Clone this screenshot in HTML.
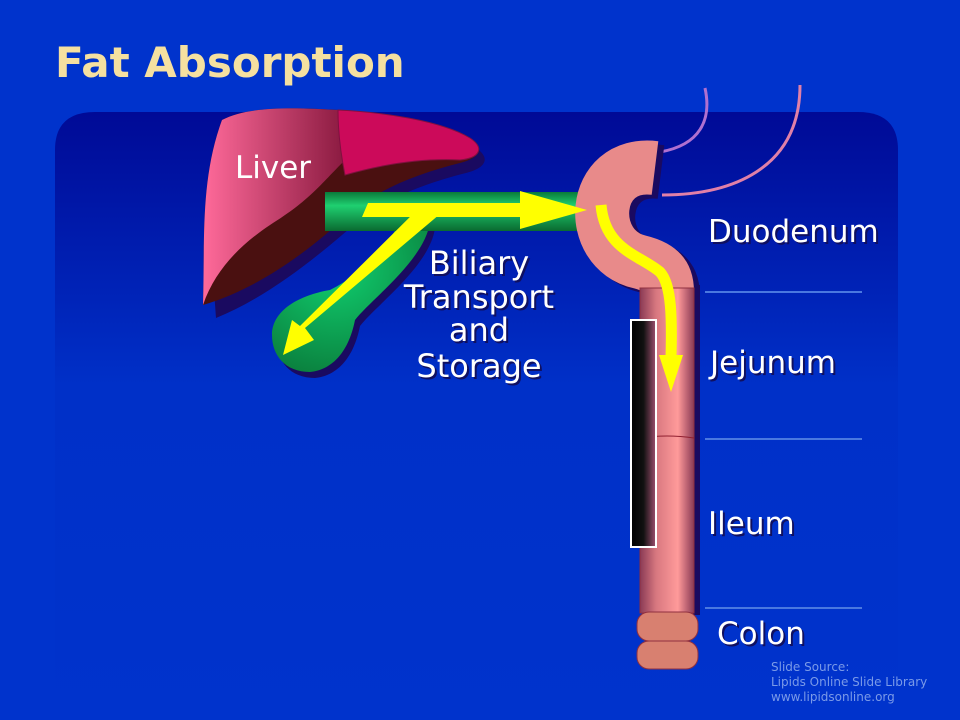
<!DOCTYPE html>
<html><head><style>
body{margin:0;width:960px;height:720px;overflow:hidden;background:#0033cc;}
svg{display:block}
.l{font-family:"DejaVu Sans","Liberation Sans",sans-serif;fill:#fff;font-size:31px}
</style></head><body>
<svg width="960" height="720" viewBox="0 0 960 720">
<defs>
<linearGradient id="panel" x1="0" y1="0" x2="0" y2="1">
<stop offset="0" stop-color="#000a96"/><stop offset="0.45" stop-color="#0030c8"/><stop offset="1" stop-color="#0033cc"/></linearGradient>
<linearGradient id="grn" x1="0" y1="0" x2="0" y2="1">
<stop offset="0" stop-color="#0a7a3a"/><stop offset="0.35" stop-color="#1fd070"/><stop offset="1" stop-color="#0a6a30"/></linearGradient>
<radialGradient id="gb" cx="0.4" cy="0.3" r="0.8"><stop offset="0" stop-color="#10d070"/><stop offset="1" stop-color="#0a7a3a"/></radialGradient>
<linearGradient id="tube" x1="0" y1="0" x2="1" y2="0">
<stop offset="0" stop-color="#8a3a55"/><stop offset="0.3" stop-color="#d87880"/><stop offset="0.7" stop-color="#ff9a9a"/><stop offset="1" stop-color="#8a3a55"/></linearGradient>
<linearGradient id="liv" x1="0" y1="0" x2="1" y2="0">
<stop offset="0" stop-color="#ff6a9a"/><stop offset="1" stop-color="#8a1a40"/></linearGradient>
<linearGradient id="bar" x1="0" y1="0" x2="1" y2="0">
<stop offset="0" stop-color="#000"/><stop offset="0.5" stop-color="#111"/><stop offset="1" stop-color="#a05070"/></linearGradient>
</defs>
<path d="M55 150 Q55 112 95 112 L858 112 Q898 112 898 150 L898 720 L55 720 Z" fill="url(#panel)"/>
<text x="55" y="77" font-family="DejaVu Sans,Liberation Sans,sans-serif" font-weight="bold" font-size="42" fill="#f5e0a0">Fat Absorption</text>
<!-- stomach -->
<path d="M705 88 C712 120 700 145 660 152" stroke="#b070d0" stroke-width="3" fill="none"/>
<path d="M800 85 C800 170 730 195 662 195" stroke="#e080a8" stroke-width="3" fill="none"/>
<!-- lines -->
<g stroke="#4a78e0" stroke-width="2"><line x1="705" y1="292" x2="862" y2="292"/><line x1="705" y1="439" x2="862" y2="439"/><line x1="705" y1="608" x2="862" y2="608"/></g>
<!-- liver -->
<path d="M210 310 C205 240 200 180 225 120 C250 105 300 108 340 112 C380 115 440 120 470 140 C485 150 480 160 460 165 C420 175 380 190 350 215 C310 250 260 290 210 310 Z" fill="#1a0a60" transform="translate(6,8)"/>
<path d="M203 305 C205 240 200 180 222 120 C250 105 300 108 340 110 C380 112 440 120 470 138 C485 148 480 158 460 163 C420 173 380 188 350 213 C310 250 260 288 203 305 Z" fill="#4a1010"/>
<path d="M203 305 C205 240 200 180 222 120 C250 105 300 108 338 110 L345 160 C320 185 310 200 270 225 C240 245 215 270 203 305 Z" fill="url(#liv)"/>
<path d="M338 110 C380 112 440 120 470 138 C485 148 480 158 460 160 C420 158 380 165 345 175 C340 150 338 130 338 110 Z" fill="#cc0a5a" stroke="#801040"/>
<text class="l" x="235" y="178">Liver</text>
<!-- gallbladder -->
<path d="M400 222 L430 222 C425 260 370 300 355 320 C348 355 330 370 310 372 C285 372 272 355 272 335 C272 310 300 295 330 290 C360 275 385 250 400 222 Z" fill="#1a0a60" transform="translate(5,6)"/>
<path d="M400 222 L430 222 C425 260 370 300 355 320 C348 355 330 370 310 372 C285 372 272 355 272 335 C272 310 300 295 330 290 C360 275 385 250 400 222 Z" fill="url(#gb)"/>
<!-- duct -->
<rect x="325" y="192" width="262" height="39" fill="url(#grn)"/>
<!-- duodenum + intestine -->
<rect x="646" y="285" width="54" height="330" fill="#1a0a60"/>
<path d="M655 168 C590 160 585 250 640 262 C665 268 667 280 667 292" stroke="#1a0a60" stroke-width="54" fill="none" transform="translate(6,4)"/>
<path d="M655 168 C590 160 585 250 640 262 C665 268 667 280 667 292" stroke="#e88a8a" stroke-width="54" fill="none"/>
<rect x="640" y="288" width="54" height="325" fill="url(#tube)" stroke="#903040"/>
<path d="M640 438 Q667 434 694 438" stroke="#902030" fill="none"/>
<rect x="637" y="612" width="61" height="29" rx="12" fill="#d88070" stroke="#903040"/>
<rect x="637" y="641" width="61" height="28" rx="12" fill="#d88070" stroke="#903040"/>
<!-- bar -->
<rect x="631" y="320" width="25" height="227" fill="url(#bar)" stroke="#fff" stroke-width="2"/>
<!-- arrows -->
<polygon points="368,203 520,203 520,191 587,210 520,229 520,217 362,217" fill="#ff0"/>
<polygon points="423,204 440,214 305,328 314,340 283,355 292,320 300,326" fill="#ff0"/>
<path d="M601 205 C605 250 640 255 660 272 C672 285 672 320 671 358" stroke="#ff0" stroke-width="11" fill="none"/>
<polygon points="659,355 683,355 671,392" fill="#ff0"/>
<!-- labels -->
<g fill="#101060" font-family="DejaVu Sans,Liberation Sans,sans-serif" font-size="32" text-anchor="middle">
<text x="481" y="276">Biliary</text><text x="481" y="310">Transport</text><text x="481" y="343">and</text><text x="481" y="379">Storage</text></g>
<g font-family="DejaVu Sans,Liberation Sans,sans-serif" font-size="32" fill="#fff" text-anchor="middle">
<text x="479" y="274">Biliary</text><text x="479" y="308">Transport</text><text x="479" y="341">and</text><text x="479" y="377">Storage</text></g>
<g fill="#101060" font-family="DejaVu Sans,Liberation Sans,sans-serif" font-size="31">
<text x="710" y="244">Duodenum</text><text x="712" y="375">Jejunum</text><text x="710" y="536">Ileum</text><text x="719" y="646">Colon</text></g>
<text class="l" x="708" y="242">Duodenum</text><text class="l" x="710" y="373">Jejunum</text><text class="l" x="708" y="534">Ileum</text><text class="l" x="717" y="644">Colon</text>
<g font-family="DejaVu Sans,Liberation Sans,sans-serif" font-size="12" fill="#7a9ae8">
<text x="771" y="671">Slide Source:</text><text x="771" y="686">Lipids Online Slide Library</text><text x="771" y="701">www.lipidsonline.org</text></g>
</svg>
</body></html>
